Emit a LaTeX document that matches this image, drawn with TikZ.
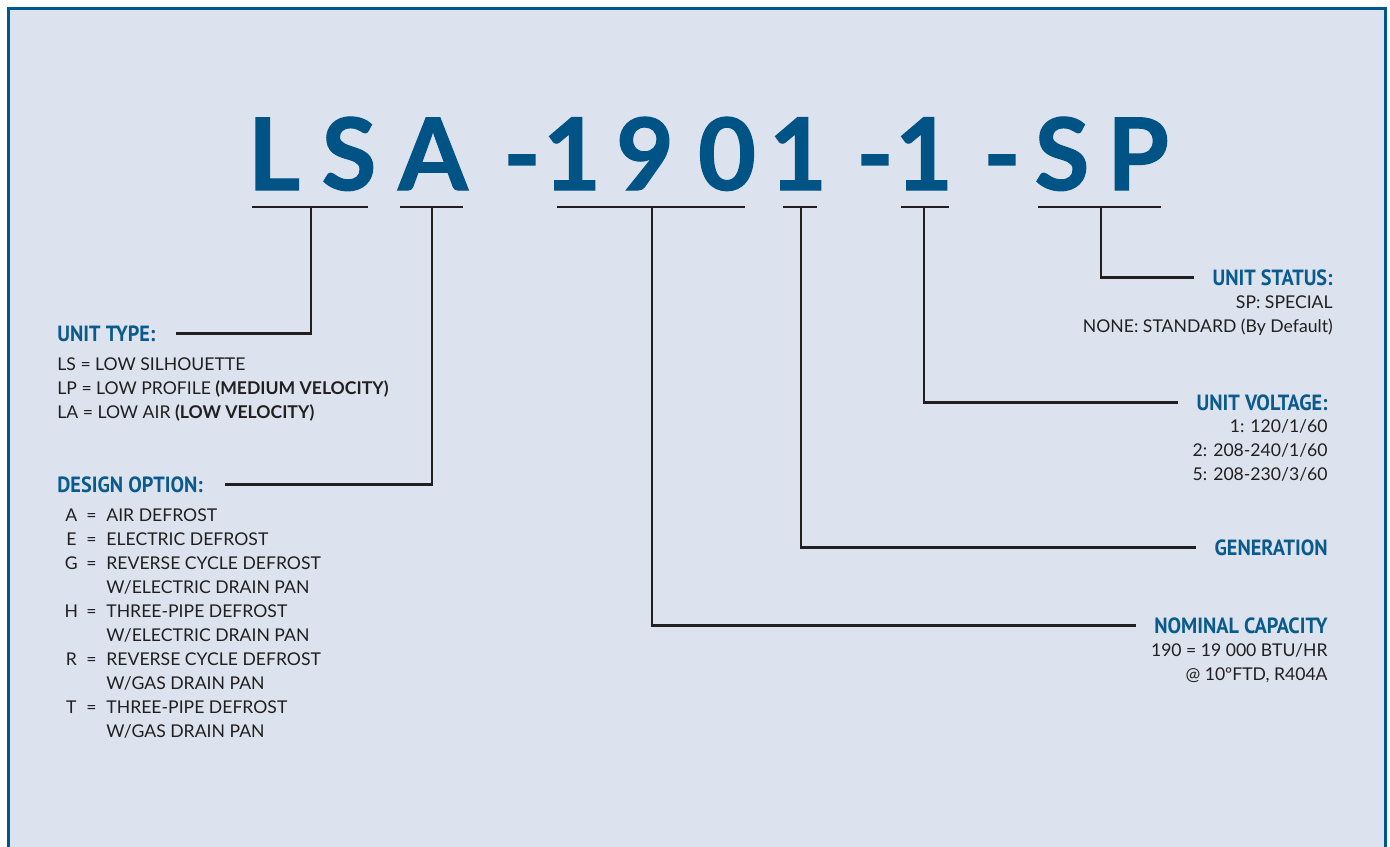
\documentclass[tikz,border=0pt]{standalone}
\usepackage{fontspec}
\setmainfont{Lato}
\newfontfamily\headfont{PT Sans}[FakeStretch=0.92]
\newfontfamily\codefont{Lato Bold}[FakeBold=1.2]
\usepackage{xcolor}
\usetikzlibrary{positioning}
\definecolor{framec}{HTML}{00578B}
\definecolor{bgc}{HTML}{DCE3EE}
\definecolor{codec}{HTML}{005385}
\definecolor{headc}{HTML}{0B5A8C}
\definecolor{inkc}{HTML}{231F20}
\tikzset{
  code/.style={anchor=base,inner sep=0pt,text=codec,font=\codefont\fontsize{50}{50}\selectfont},
  uline/.style={draw=inkc,line width=1.3pt},
  lead/.style={draw=inkc,line width=1.2pt},
  head/.style={inner sep=0pt,text=headc,font=\headfont\bfseries\fontsize{11}{12}\selectfont},
  body/.style={inner sep=0pt,text=inkc,font=\fontsize{8.8}{12}\selectfont}
}
\newcommand\optrow[2]{\makebox[14pt]{#1}\makebox[6pt]{=}\hspace{4.5pt}#2}
\newcommand\optmore[1]{\hspace{24.5pt}#1}

\begin{document}
\begin{tikzpicture}[x=0.5pt,y=-0.5pt]
\useasboundingbox (0,0) rectangle (1390,846);
\clip (0,0) rectangle (1390,846);
\fill[white] (0,0) rectangle (1390,846);
\draw[framec,line width=1.5pt,fill=bgc] (8,8) rectangle (1385,900);

% model code
\node[code] (cL)  at (274,190)  {L};
\node[code] (cS)  at (349,190)  {S};
\node[code] (cA)  at (433,190)  {A};
\node[code] (dA)  at (522,190)  {-};
\node[code] (c1)  at (572,190)  {1};
\node[code] (c9)  at (645,190)  {9};
\node[code] (c0)  at (727,190)  {0};
\node[code] (c1b) at (798,190)  {1};
\node[code] (dB)  at (875,190)  {-};
\node[code] (cV)  at (924,190)  {1};
\node[code] (dC)  at (1002,190) {-};
\node[code] (cS2) at (1062,190) {S};
\node[code] (cP)  at (1138,190) {P};

% underlines and their taps
\foreach \a/\b/\m/\n in {252/368/311/Type,400/463/432/Opt,557/745/652/Cap,783/817/801/Gen,901/949/924/Volt,1038/1161/1101/Stat}{
  \draw[uline] (\a,207) -- (\b,207);
  \coordinate (tap\n) at (\m,207);
}

% left side
\node[head,anchor=base west] (hType) at (57,341) {UNIT TYPE:};
\node[body,anchor=base west] (bType) at (57,370) {\begin{tabular}[t]{@{}l@{}}
  LS = LOW SILHOUETTE\\
  LP = LOW PROFILE \textbf{(MEDIUM VELOCITY)}\\
  LA = LOW AIR \textbf{(LOW VELOCITY)}
\end{tabular}};

\node[head,anchor=base west] (hOpt) at (57,492) {DESIGN OPTION:};
\node[body,anchor=base west] (bOpt) at (57,521) {\begin{tabular}[t]{@{}l@{}}
  \optrow{A}{AIR DEFROST}\\
  \optrow{E}{ELECTRIC DEFROST}\\
  \optrow{G}{REVERSE CYCLE DEFROST}\\
  \optmore{W/ELECTRIC DRAIN PAN}\\
  \optrow{H}{THREE-PIPE DEFROST}\\
  \optmore{W/ELECTRIC DRAIN PAN}\\
  \optrow{R}{REVERSE CYCLE DEFROST}\\
  \optmore{W/GAS DRAIN PAN}\\
  \optrow{T}{THREE-PIPE DEFROST}\\
  \optmore{W/GAS DRAIN PAN}
\end{tabular}};

% right side
\node[head,anchor=base east] (hStat) at (1333,285) {UNIT STATUS:};
\node[body,anchor=base east] (bStat) at (1333,308) {\begin{tabular}[t]{@{}r@{}}
  SP: SPECIAL\\
  NONE: STANDARD (By Default)
\end{tabular}};

\node[head,anchor=base east] (hVolt) at (1328,410) {UNIT VOLTAGE:};
\node[body,anchor=base east] (bVolt) at (1328,432) {\begin{tabular}[t]{@{}r@{}}
  1: 120/1/60\\
  2: 208-240/1/60\\
  5: 208-230/3/60
\end{tabular}};

\node[head,anchor=base east] (hGen) at (1328,555) {GENERATION};

\node[head,anchor=base east] (hCap) at (1328,633) {NOMINAL CAPACITY};
\node[body,anchor=base east] (bCap) at (1328,656) {\begin{tabular}[t]{@{}r@{}}
  190 = 19 000 BTU/HR\\
  @ 10ºFTD, R404A
\end{tabular}};

% leaders
\draw[lead] (tapType) |- ([xshift=10pt]hType.east);
\draw[lead] (tapOpt)  |- ([xshift=11pt]hOpt.east);
\draw[lead] (tapStat) |- ([xshift=-9pt]hStat.west);
\draw[lead] (tapVolt) |- ([xshift=-9pt]hVolt.west);
\draw[lead] (tapGen)  |- ([xshift=-9pt]hGen.west);
\draw[lead] (tapCap)  |- ([xshift=-9pt]hCap.west);
\end{tikzpicture}
\end{document}
